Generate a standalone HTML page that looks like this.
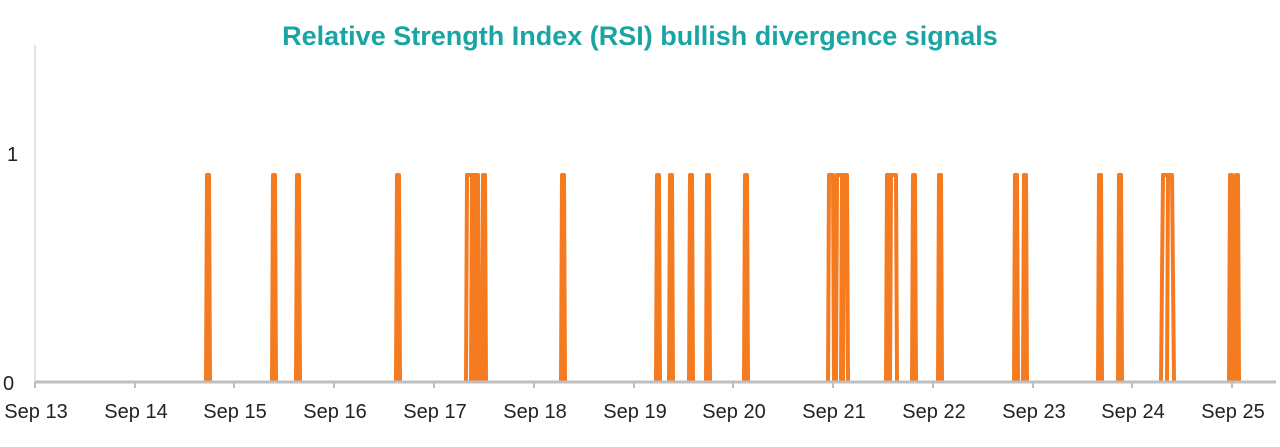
<!DOCTYPE html>
<html><head><meta charset="utf-8"><style>
body{margin:0;background:#fff;}
svg{display:block;font-family:"Liberation Sans",sans-serif;}
</style></head><body>
<svg width="1280" height="447" viewBox="0 0 1280 447" xmlns="http://www.w3.org/2000/svg">
<text x="640" y="45" text-anchor="middle" font-size="27" font-weight="bold" fill="#1aa5a5">Relative Strength Index (RSI) bullish divergence signals</text>
<line x1="35" y1="45" x2="35" y2="382" stroke="#d9d9d9" stroke-width="1.5"/>
<text x="7" y="161" font-size="20" fill="#222">1</text>
<text x="3" y="390" font-size="20" fill="#222">0</text>
<g id="spikes" fill="none" stroke="#f47b20" stroke-width="4" stroke-linejoin="round">
<path d="
M206,382 L207,175 L209,175 L210,382
M272,382 L273,175 L275,175 L276,382
M296,382 L297,175 L299,175 L300,382
M396,382 L397,175 L399,175 L400,382
M466,382 L467,175 L478,175 L479,382
M471,382 L472,175 M475,382 L476,175
M482,382 L483,175 L485,175 L486,382
M561,382 L562,175 L564,175 L565,382
M656,382 L657,175 L659,175 L660,382
M669,382 L670,175 L672,175 L673,382
M689,382 L690,175 L692,175 L693,382
M706,382 L707,175 L709,175 L710,382
M744,382 L745,175 L747,175 L748,382
M828,382 L829,175 L833,175 L834,382
M836,382 L837,175 L847,175 L848,382
M841,382 L842,175 M843,382 L844,175
M886,382 L887,175 L889,175 L890,382
M890,382 L891,175 L896,175 L897,382
M912,382 L913,175 L915,175 L916,382
M938,382 L939,175 L941,175 L942,382
M1014,382 L1015,175 L1017,175 L1018,382
M1023,382 L1024,175 L1026,175 L1027,382
M1098,382 L1099,175 L1101,175 L1102,382
M1118,382 L1119,175 L1121,175 L1122,382
M1161,382 L1163,175 L1172,175 L1174,382
M1167,382 L1168,175
M1229,382 L1230,175 L1232,175 L1233,382
M1235,382 L1236,175 L1238,175 L1239,382
"/>
</g>
<line x1="35" y1="382" x2="1276" y2="382" stroke="#bfbfbf" stroke-width="3"/>
<g stroke="#bfbfbf" stroke-width="2">
<line x1="35" y1="382" x2="35" y2="388"/><line x1="135" y1="382" x2="135" y2="388"/><line x1="234" y1="382" x2="234" y2="388"/><line x1="334" y1="382" x2="334" y2="388"/><line x1="434" y1="382" x2="434" y2="388"/><line x1="534" y1="382" x2="534" y2="388"/><line x1="634" y1="382" x2="634" y2="388"/><line x1="733" y1="382" x2="733" y2="388"/><line x1="833" y1="382" x2="833" y2="388"/><line x1="933" y1="382" x2="933" y2="388"/><line x1="1033" y1="382" x2="1033" y2="388"/><line x1="1132" y1="382" x2="1132" y2="388"/><line x1="1232" y1="382" x2="1232" y2="388"/>
</g>
<g font-size="20" fill="#222" text-anchor="middle">
<text x="36" y="418">Sep 13</text><text x="136" y="418">Sep 14</text><text x="235" y="418">Sep 15</text><text x="335" y="418">Sep 16</text><text x="435" y="418">Sep 17</text><text x="535" y="418">Sep 18</text><text x="635" y="418">Sep 19</text><text x="734" y="418">Sep 20</text><text x="834" y="418">Sep 21</text><text x="934" y="418">Sep 22</text><text x="1034" y="418">Sep 23</text><text x="1133" y="418">Sep 24</text><text x="1233" y="418">Sep 25</text>
</g>
</svg>
</body></html>
